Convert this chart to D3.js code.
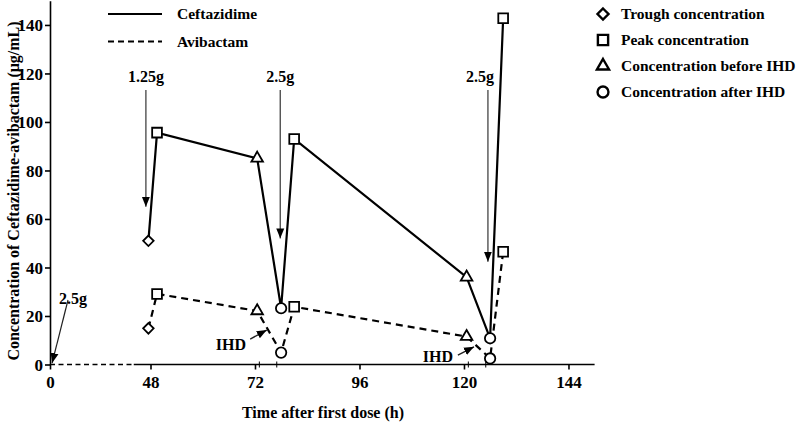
<!DOCTYPE html>
<html>
<head>
<meta charset="utf-8">
<script src="https://cdn.jsdelivr.net/npm/d3@7"></script>
<style>
  body { margin: 0; background: #fff; }
</style>
</head>
<body>
<svg id="chart" width="796" height="423"></svg>
<script>
// sample times (h) and marker type for each point
const times = [47, 49.5, 72.5, 78, 81, 120.6, 126, 129];
const markers = ['diamond', 'square', 'triangle', 'circle', 'square', 'triangle', 'circle', 'square'];
const ceftazidime = [51, 95.6, 85, 23.2, 93, 36, 10.8, 142.8];
const avibactam = [14.9, 29.1, 22.1, 4.9, 23.8, 11.5, 2.5, 46.5];

const xTicks = [0, 48, 72, 96, 120, 144];
const yTicks = [0, 20, 40, 60, 80, 100, 120, 140];
const ihdTicks = [73, 77, 121, 125]; // start / end of IHD sessions

// dose arrows: time, label, value where the arrow tip stops
const doseTimes = [45.8, 77.8, 125.5];
const doseLabels = ['1.25g', '2.5g', '2.5g'];
const doseTips = [65, 52, 42.4];

const legendLines = ['Ceftazidime', 'Avibactam'];
const legendMarkers = ['diamond', 'square', 'triangle', 'circle'];
const legendMarkerText = ['Trough concentration', 'Peak concentration', 'Concentration before IHD', 'Concentration after IHD'];

const FONT = '"Liberation Serif", "Times New Roman", serif';

const svg = d3.select('#chart');

// broken time axis: first 48 h compressed
const x = d3.scaleLinear().domain([0, 48, 150]).range([50, 150.5, 594.6]);
const y = d3.scaleLinear().domain([0, 150]).range([364.5, 0.7]);

function label(sel, size) {
  return sel.attr('font-family', FONT).attr('font-weight', 'bold').attr('font-size', size).attr('fill', '#000');
}

svg.append('defs').append('marker')
    .attr('id', 'head')
    .attr('viewBox', '0 0 10 10')
    .attr('refX', 10).attr('refY', 5)
    .attr('markerWidth', 10).attr('markerHeight', 10)
    .attr('markerUnits', 'userSpaceOnUse')
    .attr('orient', 'auto')
  .append('path')
    .attr('d', 'M0,1 L10,5 L0,9 Z')
    .attr('fill', '#000');

// y axis
const yAxis = svg.append('g')
    .attr('transform', `translate(${x(0)},0)`)
    .call(d3.axisLeft(y).tickValues(yTicks).tickSize(5).tickPadding(2).tickSizeOuter(0));
yAxis.select('.domain').attr('stroke-width', 1.6);
yAxis.selectAll('.tick line').attr('stroke-width', 1.6);
yAxis.selectAll('text').call(label, 17).attr('dy', '0.34em');

// x axis (domain drawn by hand for the dashed part)
const xAxis = svg.append('g')
    .attr('transform', `translate(0,${y(0)})`)
    .call(d3.axisBottom(x).tickValues(xTicks).tickSize(5).tickPadding(6));
xAxis.select('.domain').remove();
xAxis.selectAll('.tick line').attr('stroke-width', 1.6);
xAxis.selectAll('text').call(label, 17);

svg.append('line')
    .attr('x1', x(0)).attr('x2', x(40)).attr('y1', y(0)).attr('y2', y(0))
    .attr('stroke', '#000').attr('stroke-width', 1.4).attr('stroke-dasharray', '5,3.5');
svg.append('line')
    .attr('x1', x(40)).attr('x2', x(150)).attr('y1', y(0)).attr('y2', y(0))
    .attr('stroke', '#000').attr('stroke-width', 1.6);

svg.selectAll('.ihdtick')
    .data(ihdTicks)
    .enter().append('line')
    .attr('x1', d => x(d)).attr('x2', d => x(d))
    .attr('y1', y(0) - 3).attr('y2', y(0) + 3)
    .attr('stroke', '#000').attr('stroke-width', 1);

// axis titles
svg.append('text')
    .attr('x', 323).attr('y', 418)
    .attr('text-anchor', 'middle')
    .call(label, 16)
    .text('Time after first dose (h)');
svg.append('text')
    .attr('transform', 'translate(19,191) rotate(-90)')
    .attr('text-anchor', 'middle')
    .call(label, 16)
    .text('Concentration of Ceftazidime-avibactam (μg/mL)');

// series lines
const line = d3.line()
    .x((d, i) => x(times[i]))
    .y(d => y(d));

svg.append('path')
    .datum(ceftazidime)
    .attr('d', line)
    .attr('fill', 'none').attr('stroke', '#000').attr('stroke-width', 2.2);
svg.append('path')
    .datum(avibactam)
    .attr('d', line)
    .attr('fill', 'none').attr('stroke', '#000').attr('stroke-width', 2.2)
    .attr('stroke-dasharray', '7,5');

const symbolType = {
  diamond: d3.symbolDiamond2,
  square: d3.symbolSquare,
  triangle: d3.symbolTriangle,
  circle: d3.symbolCircle
};
const symbolSize = { diamond: 70, square: 95, triangle: 58, circle: 85 };

function drawMarkers(values) {
  svg.append('g').selectAll('path')
      .data(values)
      .enter().append('path')
      .attr('transform', (d, i) => `translate(${x(times[i])},${y(d)})`)
      .attr('d', (d, i) => d3.symbol(symbolType[markers[i]], symbolSize[markers[i]])())
      .attr('fill', '#fff').attr('stroke', '#000').attr('stroke-width', 1.8);
}
drawMarkers(ceftazidime);
drawMarkers(avibactam);

// dose arrows
doseTimes.forEach((t, i) => {
  svg.append('line')
      .attr('x1', x(t)).attr('x2', x(t))
      .attr('y1', 90).attr('y2', y(doseTips[i]))
      .attr('stroke', '#444').attr('stroke-width', 1.3)
      .attr('marker-end', 'url(#head)');
});
svg.selectAll('.doselabel')
    .data(doseLabels)
    .enter().append('text')
    .attr('x', (d, i) => i === 2 ? x(doseTimes[i]) - 8 : x(doseTimes[i]))
    .attr('y', 82)
    .attr('text-anchor', 'middle')
    .call(label, 16)
    .text(d => d);

// first dose at time 0
svg.append('line')
    .attr('x1', x(8.6)).attr('y1', y(26.6)).attr('x2', x(1)).attr('y2', y(0.6))
    .attr('stroke', '#222').attr('stroke-width', 1.2)
    .attr('marker-end', 'url(#head)');
svg.append('text')
    .attr('x', 73).attr('y', 304)
    .attr('text-anchor', 'middle')
    .call(label, 16)
    .text('2.5g');

// IHD arrows
const ihdArrows = [
  { from: [70.9, 10.5], to: [74.7, 14.2], lx: 246, ly: 350 },
  { from: [118.6, 3.9], to: [122.3, 7.3], lx: 453, ly: 362 }
];
ihdArrows.forEach(a => {
  svg.append('line')
      .attr('x1', x(a.from[0])).attr('y1', y(a.from[1]))
      .attr('x2', x(a.to[0])).attr('y2', y(a.to[1]))
      .attr('stroke', '#222').attr('stroke-width', 1.4)
      .attr('marker-end', 'url(#head)');
  svg.append('text')
      .attr('x', a.lx).attr('y', a.ly)
      .attr('text-anchor', 'end')
      .call(label, 16)
      .text('IHD');
});

// legend: line styles
legendLines.forEach((name, i) => {
  const ly = 14 + i * 27.5;
  svg.append('line')
      .attr('x1', 108).attr('x2', 162).attr('y1', ly).attr('y2', ly)
      .attr('stroke', '#000').attr('stroke-width', 2.2)
      .attr('stroke-dasharray', i === 1 ? '6,4' : null);
  svg.append('text')
      .attr('x', 177).attr('y', ly + 5)
      .call(label, 15.5)
      .text(name);
});

// legend: markers
legendMarkers.forEach((m, i) => {
  const ly = 14 + i * 26;
  svg.append('path')
      .attr('transform', `translate(603,${ly})`)
      .attr('d', d3.symbol(symbolType[m], symbolSize[m] * 1.1)())
      .attr('fill', '#fff').attr('stroke', '#000').attr('stroke-width', 2.4);
  svg.append('text')
      .attr('x', 621).attr('y', ly + 5)
      .call(label, 15.5)
      .text(legendMarkerText[i]);
});
</script>
</body>
</html>
